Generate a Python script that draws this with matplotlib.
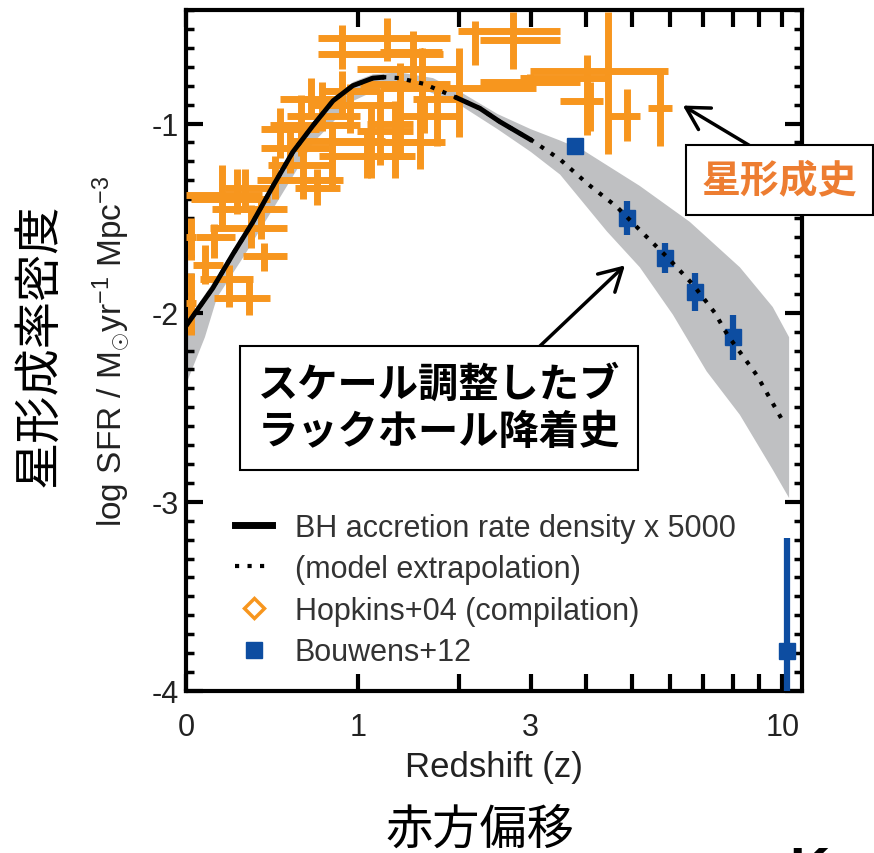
import numpy as np
import matplotlib
matplotlib.use('Agg')
import matplotlib.pyplot as plt
from matplotlib.lines import Line2D
from matplotlib.ticker import MultipleLocator, NullLocator

plt.rcParams['font.family'] = ['Liberation Sans', 'DejaVu Sans']
plt.rcParams['axes.unicode_minus'] = False
plt.rcParams['mathtext.fontset'] = 'custom'
plt.rcParams['mathtext.rm'] = 'Liberation Sans'
plt.rcParams['mathtext.it'] = 'Liberation Sans'

# ---- model curve (BH accretion rate density x 5000), solid where measured
curve_z = [0, 0.114, 0.208, 0.309, 0.419, 0.537, 0.667, 0.806, 0.955, 1.12, 1.22,
           1.36, 1.6, 1.95, 2.26, 2.53, 3.02, 3.5, 4.03, 4.65, 5.28, 5.94, 6.67,
           7.38, 7.83, 8.92, 10.1]
curve_sfr = [-2.07, -1.87, -1.69, -1.52, -1.33, -1.15, -1.01, -0.88, -0.80, -0.76, -0.755,
             -0.76, -0.79, -0.86, -0.92, -0.99, -1.09, -1.19, -1.32, -1.44, -1.58, -1.71, -1.85,
             -2.00, -2.12, -2.33, -2.59]
solid_ranges = [(0, 1.22), (1.95, 3.02)]

# ---- uncertainty band
band_hi_z = [0, 0.11, 0.21, 0.31, 0.42, 0.54, 0.67, 0.81, 0.96, 1.12, 1.36, 1.7, 2.04,
             2.5, 3.0, 3.5, 3.93, 5.2, 6.58, 8.27, 9.58, 10.3]
band_hi = [-2.05, -1.85, -1.67, -1.50, -1.31, -1.13, -0.99, -0.86, -0.78, -0.74, -0.73, -0.76, -0.84,
           -0.95, -1.03, -1.09, -1.14, -1.33, -1.52, -1.76, -1.97, -2.13]
band_lo_z = [0, 0.079, 0.133, 0.257, 0.42, 0.67, 0.96, 1.2, 1.6, 2.0, 2.5, 3.0, 3.5, 4.43,
             5.2, 6.08, 7.11, 8.27, 9.58, 10.3]
band_lo = [-2.38, -2.13, -1.92, -1.71, -1.45, -1.10, -0.88, -0.81, -0.82, -0.90, -1.03, -1.15, -1.27, -1.57,
           -1.76, -2.01, -2.31, -2.54, -2.83, -2.98]

# ---- Hopkins+04 compilation: centre, z range, logSFR range
hop_z = [0.02, 0.02, 0.155, 0.23, 0.35, 0.30, 0.37, 0.08, 0.19, 0.29,
         0.43, 0.60, 0.69, 0.59, 0.73, 0.80, 1.07, 0.87, 1.18, 1.36,
         2.0, 1.74, 1.60, 1.32, 0.87, 1.24, 1.49, 1.58, 2.19, 2.72,
         4.45, 4.02, 2.98, 4.07, 4.88, 5.72,
         0.52, 0.93, 1.10, 0.65, 0.46, 1.36, 1.56, 0.12, 0.27]
hop_zlo = [0.0, 0.0, 0.0, 0.02, 0.11, 0.10, 0.26, 0.03, 0.06, 0.12,
           0.33, 0.39, 0.55, 0.40, 0.50, 0.54, 0.71, 0.71, 0.99, 1.07,
           1.18, 1.49, 1.36, 1.18, 0.70, 0.70, 0.99, 1.18, 1.98, 2.26,
           2.98, 2.83, 2.26, 3.50, 4.50, 5.40,
           0.35, 0.65, 0.78, 0.46, 0.35, 1.01, 1.32, 0.04, 0.17]
hop_zhi = [0.04, 0.04, 0.36, 0.40, 0.50, 0.50, 0.50, 0.16, 0.31, 0.40,
           0.88, 0.78, 0.86, 1.01, 1.01, 1.23, 1.49, 1.18, 1.49, 1.49,
           3.09, 1.97, 1.97, 1.51, 1.89, 1.81, 1.98, 1.80, 3.50, 3.50,
           5.94, 4.43, 3.87, 4.34, 5.20, 6.05,
           0.78, 1.36, 1.56, 0.90, 0.71, 1.89, 1.83, 0.22, 0.40]
hop_sfr = [-1.60, -1.95, -1.38, -1.40, -1.45, -1.55, -1.70, -1.75, -1.82, -1.92,
           -1.30, -1.22, -1.34, -1.01, -0.96, -1.09, -1.17, -0.83, -1.04, -1.00,
           -0.81, -0.87, -0.96, -1.17, -0.55, -0.63, -0.71, -0.62, -0.51, -0.56,
           -0.72, -0.76, -0.78, -0.88, -0.96, -0.92,
           -1.13, -0.90, -1.10, -0.87, -1.03, -0.79, -1.10, -1.60, -1.34]
hop_hi = [-1.50, -1.79, -1.22, -1.24, -1.39, -1.43, -1.63, -1.64, -1.75, -1.82,
          -1.17, -1.12, -1.24, -0.85, -0.78, -1.00, -1.05, -0.72, -0.82, -0.83,
          -0.60, -0.78, -0.88, -0.88, -0.48, -0.44, -0.51, -0.60, -0.46, -0.41,
          -0.41, -0.64, -0.74, -0.78, -0.82, -0.73,
          -1.03, -0.79, -0.92, -0.76, -0.92, -0.68, -0.87, -1.53, -1.24]
hop_lo = [-1.72, -2.12, -1.55, -1.48, -1.61, -1.66, -1.78, -1.85, -1.97, -2.01,
          -1.40, -1.40, -1.43, -1.17, -1.04, -1.33, -1.29, -0.95, -1.22, -1.18,
          -1.07, -1.12, -1.05, -1.29, -0.71, -0.67, -0.78, -0.87, -0.69, -0.71,
          -1.16, -1.06, -0.82, -1.04, -1.09, -1.12,
          -1.26, -1.05, -1.29, -0.97, -1.18, -0.92, -1.24, -1.71, -1.47]

# ---- Bouwens+12
bou_z = [3.77, 4.89, 5.85, 6.73, 8.01, 10.19]
bou_sfr = [-1.12, -1.50, -1.71, -1.89, -2.13, -3.79]
bou_err_lo = [0.03, 0.09, 0.08, 0.10, 0.12, 0.80]
bou_err_hi = [0.03, 0.09, 0.08, 0.10, 0.12, 0.60]

xtick_vals = [0, 1, 2, 3, 4, 5, 6, 7, 8, 9, 10]
xtick_labels = ['0', '1', '', '3', '', '', '', '', '', '', '10']
ytick_vals = [-4, -3, -2, -1]
ytick_labels = ['-4', '-3', '-2', '-1']

orange = '#F7961E'
blue = '#0D4DA1'
grey = '#BFC0C2'
cjk = ['Noto Sans CJK JP', 'DejaVu Sans']


def fwd(z):
    with np.errstate(invalid='ignore', divide='ignore'):
        return np.log10(1 + np.asarray(z, dtype=float))


def inv(u):
    return 10 ** np.asarray(u, dtype=float) - 1


fig = plt.figure(figsize=(8.74, 8.54), dpi=100)
ax = fig.add_axes([0.2128, 0.1897, 0.7048, 0.7974])
ax.set_xscale('function', functions=(fwd, inv))

# band
ax.fill(np.r_[band_hi_z, band_lo_z[::-1]], np.r_[band_hi, band_lo[::-1]],
        color=grey, lw=0, zorder=1)

# Hopkins points
hz = np.array(hop_z)
hs = np.array(hop_sfr)
xerr = [hz - np.array(hop_zlo), np.array(hop_zhi) - hz]
yerr = [hs - np.array(hop_lo), np.array(hop_hi) - hs]
ax.errorbar(hz, hs, xerr=xerr, yerr=yerr, fmt='D', ms=4, color=orange,
            elinewidth=5, capsize=0, zorder=3)

# Bouwens points
ax.errorbar(bou_z, bou_sfr, yerr=[bou_err_lo, bou_err_hi], fmt='s', ms=12,
            color=blue, mec=blue, elinewidth=4.5, capsize=0, zorder=4)

# model curve
cz = np.array(curve_z)
cs = np.array(curve_sfr)
ax.plot(cz, cs, color='k', lw=3, ls=(0, (1, 2)), zorder=5)
for a, b in solid_ranges:
    m = (cz >= a) & (cz <= b)
    ax.plot(cz[m], cs[m], color='k', lw=3.5, solid_capstyle='butt', zorder=6)

ax.set_xlim(0, 10.9)
ax.set_ylim(-3.98, -0.40)
ax.set_xticks(xtick_vals)
ax.set_xticklabels(xtick_labels)
ax.xaxis.set_minor_locator(NullLocator())
ax.set_yticks(ytick_vals)
ax.set_yticklabels(ytick_labels)
ax.yaxis.set_minor_locator(MultipleLocator(0.1))
for s in ax.spines.values():
    s.set_linewidth(3)
ax.tick_params(which='both', direction='in', top=True, right=True, colors='k',
               labelcolor='#222222', labelsize=22)
ax.tick_params(which='major', length=12, width=3)
ax.tick_params(which='minor', length=6, width=2.5)
ax.tick_params(axis='x', pad=15)
ax.tick_params(axis='y', pad=5)

ax.set_xlabel('Redshift (z)', fontsize=25, color='#222222', labelpad=6)
ax.set_ylabel(r'log SFR / M$_{\odot}$yr$^{-1}$ Mpc$^{-3}$', fontsize=24,
              color='#222222', labelpad=14)

# legend
handles = [
    Line2D([], [], color='k', lw=5),
    Line2D([], [], color='k', lw=3, ls=(0, (1, 2))),
    Line2D([], [], ls='none', marker='D', ms=10, mfc='white', mec=orange, mew=2.5),
    Line2D([], [], ls='none', marker='s', ms=11, color=blue),
]
labels = ['BH accretion rate density x 5000', '(model extrapolation)',
          'Hopkins+04 (compilation)', 'Bouwens+12']
leg = ax.legend(handles, labels, loc='upper left', bbox_to_anchor=(0.08, 0.262),
                frameon=False, fontsize=22, handlelength=1.2, handletextpad=0.75,
                labelspacing=0.38, borderaxespad=0, borderpad=0, labelcolor='#333333')

# annotations
fig.text(258 / 874, 1 - 409 / 854, 'スケール調整したブ\nラックホール降着史',
         family=cjk, fontsize=29, fontweight='bold', color='k', ha='left', va='center',
         linespacing=1.2,
         bbox=dict(boxstyle='square,pad=0.45', fc='white', ec='k', lw=1.5))
fig.text(702 / 874, 1 - 181 / 854, '星形成史', family=cjk, fontsize=28,
         fontweight='bold', color='#ED7D31', ha='left', va='center',
         bbox=dict(boxstyle='square,pad=0.4', fc='white', ec='k', lw=1.5))

arrow = dict(arrowstyle='->,head_length=0.8,head_width=0.45', lw=2.5, color='k',
             mutation_scale=20, shrinkA=0, shrinkB=0)
ax.annotate('', xy=(4.84, -1.75), xycoords='data',
            xytext=(540 / 874, 1 - 347 / 854), textcoords='figure fraction',
            arrowprops=arrow)
ax.annotate('', xy=(6.37, -0.905), xycoords='data',
            xytext=(752 / 874, 1 - 148 / 854), textcoords='figure fraction',
            arrowprops=arrow)

fig.text(40 / 874, 1 - 345 / 854, '星形成率密度', family=cjk, fontsize=34,
         rotation=90, ha='center', va='center', color='k')
fig.text(480 / 874, 1 - 830 / 854, '赤方偏移', family=cjk, fontsize=34,
         ha='center', va='center', color='k')
fig.text(789 / 874, -0.038, 'K', fontsize=40, fontweight='bold', color='k')

fig.savefig('out.png', dpi=100)
